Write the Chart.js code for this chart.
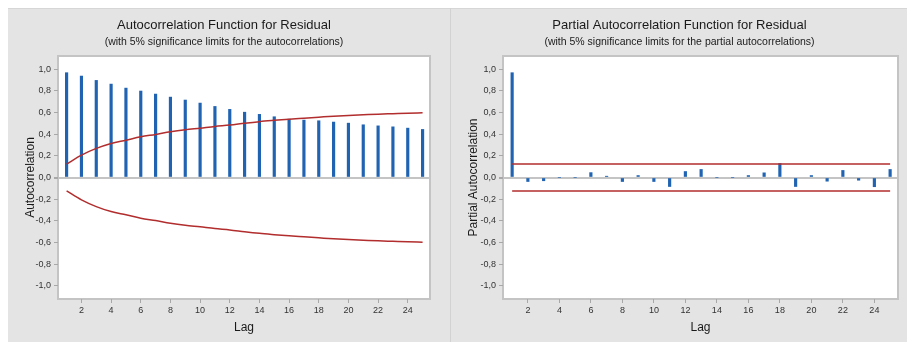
<!DOCTYPE html>
<html><head><meta charset="utf-8">
<script src="https://cdn.jsdelivr.net/npm/chart.js@4.4.1/dist/chart.umd.min.js"></script>
<style>
html,body{margin:0;padding:0;background:#fff;width:907px;height:342px;overflow:hidden;}
#bg{position:absolute;left:8px;top:8px;width:899px;height:334px;background:#e4e4e4;border-top:1px solid #d6d6d6;box-sizing:border-box;}
#sep{position:absolute;left:450px;top:8px;width:1px;height:334px;background:#d2d2d2;}
#c1{position:absolute;left:8px;top:8px;}
#c2{position:absolute;left:451px;top:8px;}
</style></head>
<body>
<div id="bg"></div><div id="sep"></div>
<canvas id="c1" width="442" height="334"></canvas>
<canvas id="c2" width="456" height="334"></canvas>
<script>
// ---- data ----
const lags = [1,2,3,4,5,6,7,8,9,10,11,12,13,14,15,16,17,18,19,20,21,22,23,24,25];
const acfValues = [0.966,0.935,0.895,0.861,0.824,0.797,0.769,0.741,0.714,0.686,0.655,0.628,0.602,0.582,0.560,0.538,0.529,0.523,0.511,0.501,0.486,0.476,0.467,0.455,0.443];
const acfUpper = [0.123,0.206,0.268,0.314,0.344,0.375,0.397,0.421,0.440,0.455,0.471,0.483,0.500,0.515,0.527,0.538,0.547,0.556,0.565,0.572,0.578,0.584,0.588,0.592,0.597];
const acfLower = [-0.123,-0.206,-0.268,-0.314,-0.344,-0.375,-0.397,-0.421,-0.440,-0.455,-0.471,-0.483,-0.500,-0.515,-0.527,-0.538,-0.547,-0.556,-0.565,-0.572,-0.578,-0.584,-0.588,-0.592,-0.597];
const pacfValues = [0.966,-0.037,-0.030,0.000,0.000,0.045,0.012,-0.037,0.018,-0.037,-0.083,0.055,0.074,0.000,0.000,0.018,0.043,0.129,-0.083,0.018,-0.034,0.065,-0.025,-0.085,0.074];
const pacfLimitLags = [1, 25];
const pacfUpper = [0.125, 0.125];
const pacfLower = [-0.125, -0.125];
const yTickValues = [-1.0,-0.8,-0.6,-0.4,-0.2,0.0,0.2,0.4,0.6,0.8,1.0];
const xTickValues = [2,4,6,8,10,12,14,16,18,20,22,24];

const FONT = '"Liberation Sans", Arial, sans-serif';
const BAR = 'rgb(31,99,178)';
const RED = 'rgb(178,45,45)';

const framePlugin = {
  id: 'frame',
  beforeDraw(chart) {
    const {ctx, chartArea: a} = chart;
    ctx.save();
    ctx.fillStyle = '#ffffff';
    ctx.fillRect(a.left, a.top, a.right - a.left, a.bottom - a.top);
    ctx.strokeStyle = '#c4c4c4';
    ctx.lineWidth = 2;
    ctx.strokeRect(a.left, a.top, a.right - a.left, a.bottom - a.top);
    ctx.restore();
  }
};

function makeChart(id, cfg) {
  const lineSets = cfg.lines.map(l => ({
    type: 'line',
    data: l.x.map((x, i) => ({x: x, y: l.y[i]})),
    borderColor: RED, borderWidth: 1.5, pointRadius: 0,
    cubicInterpolationMode: 'monotone', fill: false
  }));
  return new Chart(document.getElementById(id), {
    type: 'bar',
    data: {
      datasets: [...lineSets, {
        type: 'bar',
        data: lags.map((x, i) => ({x: x, y: cfg.bars[i]})),
        backgroundColor: BAR, borderWidth: 0, barThickness: 2.5
      }]
    },
    options: {
      responsive: false, animation: false,
      layout: {padding: {left: 10, right: cfg.padRight, top: 0, bottom: 0}},
      plugins: {
        legend: {display: false}, tooltip: {enabled: false},
        title: {display: true, text: cfg.title, color: '#1a1a1a',
          font: {family: FONT, size: 13, weight: 'normal'}, padding: {top: 10, bottom: 2}},
        subtitle: {display: true, text: cfg.subtitle, color: '#1a1a1a',
          font: {family: FONT, size: 10.5, weight: 'normal'}, padding: {top: 0, bottom: 7.8}}
      },
      scales: {
        x: {
          type: 'linear', min: 0.42, max: 25.5, offset: false,
          afterFit: s => { s.height = 43; },
          afterBuildTicks: s => { s.ticks = xTickValues.map(v => ({value: v})); },
          border: {display: false},
          grid: {offset: false, drawOnChartArea: false, tickColor: '#a8a8a8', tickLength: 4},
          ticks: {autoSkip: false, maxRotation: 0, padding: 2, color: '#333',
            font: {family: FONT, size: 9}, callback: v => String(v)},
          title: {display: true, text: 'Lag', color: '#1a1a1a',
            font: {family: FONT, size: 12}, padding: {top: 0, bottom: 7}}
        },
        y: {
          min: -1.12, max: 1.12,
          afterFit: s => { s.width = cfg.yWidth; },
          afterBuildTicks: s => { s.ticks = yTickValues.map(v => ({value: v})); },
          border: {display: false},
          grid: {
            drawOnChartArea: true, tickLength: 4, tickColor: '#a8a8a8',
            color: c => (c.tick && Math.abs(c.tick.value) < 1e-9) ? '#c4c4c4' : 'rgba(0,0,0,0)',
            lineWidth: c => (c.tick && Math.abs(c.tick.value) < 1e-9) ? 2 : 1
          },
          ticks: {autoSkip: false, padding: 3, color: '#333',
            font: {family: FONT, size: 9},
            callback: v => v.toFixed(1).replace('.', ',')},
          title: {display: true, text: cfg.yTitle, color: '#1a1a1a',
            font: {family: FONT, size: 12}, padding: {top: 5, bottom: 0}}
        }
      }
    },
    plugins: [framePlugin]
  });
}

makeChart('c1', {
  title: 'Autocorrelation Function for Residual',
  subtitle: '(with 5% significance limits for the autocorrelations)',
  yTitle: 'Autocorrelation',
  bars: acfValues,
  lines: [{x: lags, y: acfUpper}, {x: lags, y: acfLower}],
  padRight: 20, yWidth: 40
});
makeChart('c2', {
  title: 'Partial Autocorrelation Function for Residual',
  subtitle: '(with 5% significance limits for the partial autocorrelations)',
  yTitle: 'Partial Autocorrelation',
  bars: pacfValues,
  lines: [{x: pacfLimitLags, y: pacfUpper}, {x: pacfLimitLags, y: pacfLower}],
  padRight: 9, yWidth: 42
});
</script>
</body></html>
